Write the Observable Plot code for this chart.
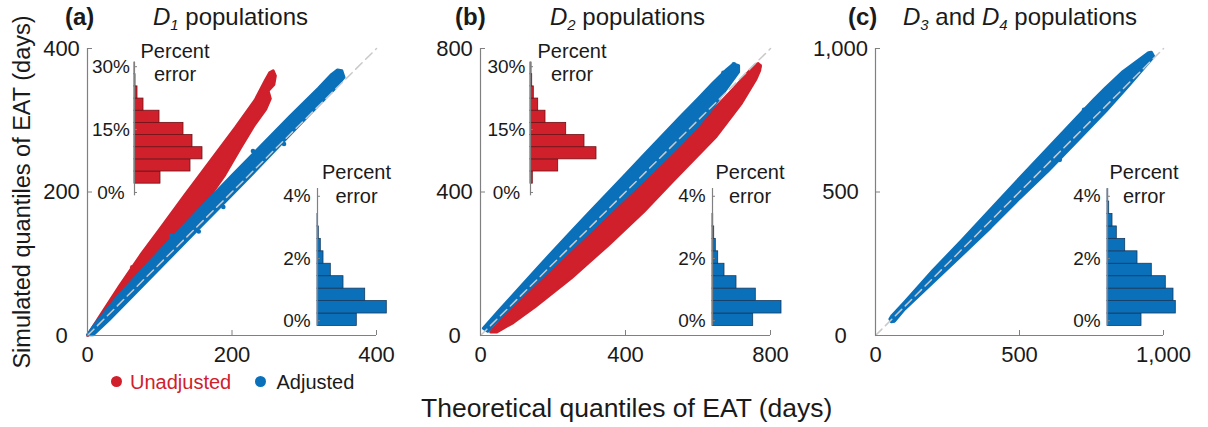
<!DOCTYPE html>
<html><head><meta charset="utf-8">
<script src="https://cdn.jsdelivr.net/npm/d3@7"></script>
<script src="https://cdn.jsdelivr.net/npm/@observablehq/plot@0.6"></script>
<style>
body{margin:0;background:#fff;font-family:"Liberation Sans",Arial,sans-serif;color:#1a1a1a;}
#root{position:relative;width:1208px;height:427px;overflow:hidden;background:#fff;}
.abs{position:absolute;white-space:nowrap;}
.title{font-size:24px;line-height:28px;top:3px;}
.pe{font-size:20px;line-height:23.3px;text-align:center;transform:translateX(-50%);}
sub{font-size:62%;vertical-align:-0.35em;line-height:0;}
</style></head><body><div id="root"></div>
<script>
// ---------------- data ----------------
const RED = "#d0202c", BLUE = "#0a70ba";
const RED_EDGE = "#6e1217", BLUE_EDGE = "#173a5e";

// panel (a): D1
const d1Ticks = [0, 200, 400];
const d1Diag = [0, 400];
const d1UnadjBand = [[0,0],[18,28],[45,70],[75,114],[100,148],[135,196],[170,243],[205,290],[232,328],[246,355],[252,366],[257,369],
  [260,362],[258,350],[250,341],[253,330],[247,316],[230,292],[212,262],[190,224],[165,188],[135,150],[105,113],[72,76],[40,41],[15,14],[3,2]];
const d1AdjBand = [[0,1],[10,15],[40,52],[80,96],[120,139],[160,181],[200,223],[240,264],[280,305],[320,345],[338,364],[346,370],[352,369],
  [355,360],[342,344],[305,306],[265,264],[225,222],[185,181],[145,140],[105,99],[65,58],[30,22],[8,1]];
const d1UnadjDots = [[250,356],[62,95]];
const d1AdjDots = [[116,139],[154,145],[229,257],[272,267],[188,179]];

// panel (b): D2
const d2Ticks = [0, 400, 800];
const d2Diag = [0, 800];
const d2UnadjBand = [[28,10],[100,92],[200,186],[300,283],[400,381],[500,481],[600,583],[700,690],[742,737],[758,754],[766,758],[772,750],
  [770,738],[760,715],[720,648],[650,555],[530,430],[450,345],[350,250],[250,160],[150,80],[90,36],[45,10]];
const d2AdjBand = [[8,20],[50,68],[100,124],[150,180],[200,235],[250,289],[300,343],[350,396],[400,449],[450,502],[500,555],[550,608],[600,660],[640,702],[680,742],[698,757],
  [712,752],[712,735],[680,690],[640,635],[600,585],[550,532],[500,482],[450,433],[400,385],[350,336],[300,288],[250,240],[200,192],[150,144],[100,95],[50,46],[20,12]];
const d2UnadjDots = [[770,752],[754,722]];
const d2AdjDots = [[699,756],[670,732]];

// panel (c): D3 and D4
const d3Ticks = [0, 500, 1000];
const d3Diag = [0, 1000];
const d3AdjBand = [[50,57],[58,70],[100,115],[200,227],[300,332],[400,440],[500,548],[600,654],[700,760],[760,824],[800,864],[860,920],[920,964],[948,985],[958,987],
  [966,972],[930,930],[880,872],[800,782],[700,678],[600,574],[500,478],[400,377],[300,281],[200,186],[100,91],[66,50],[55,48]];
const d3AdjDots = [[950,978],[924,936],[898,926],[852,892],[780,830],[724,786],[640,612]];

// percent-error histograms (bin edges in %, bar lengths = relative counts)
const unadjPctTicks = [0, 15, 30];
const adjPctTicks = [0, 2, 4];
const unadjBinEdges = [2.1, 5.0, 7.9, 10.8, 13.7, 16.6, 19.5, 22.4, 25.3, 28.2, 31.0];
const adjBinEdges = [-0.17, 0.23, 0.63, 1.03, 1.43, 1.83, 2.23, 2.63, 3.03, 3.43, 3.83, 4.23];
const d1ErrUnadj = [26, 56, 68, 58, 49, 25, 9, 3, 1, 0.4];
const d2ErrUnadj = [2.3, 27.7, 66, 54, 35.7, 15, 7.7, 3.3, 1.7, 1];
const d1ErrAdj = [39.3, 69.3, 47.7, 26, 13.3, 6, 3.3, 1.3, 0.3];
const d2ErrAdj = [40.7, 69, 43.3, 24, 12, 5.7, 3.3, 1.7, 0.7];
const d3ErrAdj = [34, 68.3, 66, 58.3, 44.3, 30, 17.7, 9.3, 5, 1.7, 0.7];

// ---------------- drawing ----------------
const root = document.getElementById("root");
const AX = "#808080", TXT = "#1a1a1a";
const FONT = "'Liberation Sans', Arial, sans-serif";

function place(node, left, top) {
  node.style.position = "absolute";
  node.style.left = left + "px";
  node.style.top = top + "px";
  root.appendChild(node);
}

function mainPanel({left, ml, mr, w, dom, ticks, diag, bands, yLabelPad}) {
  const mt = 48, h = 287, mb = 40;
  const marks = [];
  for (const b of bands) {
    marks.push(Plot.line(b.pts, {x: d => d[0], y: d => d[1], curve: "linear-closed",
      fill: b.color, stroke: b.color, strokeWidth: 3, strokeLinejoin: "round"}));
    marks.push(Plot.dot(b.dots, {x: d => d[0], y: d => d[1], r: 2.3, fill: b.color, stroke: "none"}));
  }
  marks.push(
    Plot.line(diag, {x: d => d, y: d => d, stroke: "#c9c9c9", strokeWidth: 1.5, strokeDasharray: "9,5"}),
    Plot.ruleX([0], {stroke: AX, strokeWidth: 1.2}),
    Plot.ruleY([0], {stroke: AX, strokeWidth: 1.2}),
    Plot.axisX(ticks, {tickSize: -5, fill: "none", stroke: AX, label: null}),
    Plot.axisY(ticks, {tickSize: -5, fill: "none", stroke: AX, label: null}),
    Plot.axisX(ticks, {tickSize: 0, tickPadding: 11, fontSize: 22, fill: TXT, label: null}),
    Plot.axisY(ticks, {tickSize: 0, tickPadding: yLabelPad, textAnchor: "middle", fontSize: 22, fill: TXT, label: null})
  );
  const svg = Plot.plot({
    width: ml + w + mr, height: mt + h + mb,
    marginLeft: ml, marginRight: mr, marginTop: mt, marginBottom: mb,
    x: {domain: [0, dom]}, y: {domain: [0, dom]},
    style: {background: "transparent", overflow: "visible", fontFamily: FONT},
    marks
  });
  place(svg, left - ml, 0);
}

function inset({axisPx, y0, k, lo, hi, edges, values, fill, stroke, ticks, labelPad}) {
  const mt = 4, mb = 4, ml = 50, w = 80;
  const data = values.map((v, i) => ({v, a: edges[i], b: edges[i + 1]}));
  const svg = Plot.plot({
    width: ml + w, height: (hi - lo) * k + mt + mb,
    marginLeft: ml, marginRight: 0, marginTop: mt, marginBottom: mb,
    x: {domain: [0, w], axis: null},
    y: {domain: [lo, hi]},
    style: {background: "transparent", overflow: "visible", fontFamily: FONT},
    marks: [
      Plot.rectX(data, {x1: 0, x2: "v", y1: "a", y2: "b", fill, stroke, strokeWidth: 0.8}),
      Plot.ruleX([0], {y1: lo, y2: hi, stroke: AX, strokeWidth: 1.2}),
      Plot.axisY(ticks, {tickSize: -3, fill: "none", stroke: AX, label: null}),
      Plot.axisY(ticks, {tickSize: 0, tickPadding: labelPad, textAnchor: "middle", tickFormat: d => d + "%", fontSize: 19, fill: TXT, label: null})
    ]
  });
  place(svg, axisPx - ml, y0 - hi * k - mt);
}

function html(cls, left, top, inner, extra = "") {
  const d = document.createElement("div");
  d.className = "abs " + cls;
  d.style.cssText += `left:${left}px;top:${top}px;${extra}`;
  d.innerHTML = inner;
  root.appendChild(d);
  return d;
}

// main panels
mainPanel({left: 87, ml: 87, mr: 30, w: 289, dom: 400, ticks: d1Ticks, diag: d1Diag, yLabelPad: 26,
  bands: [{pts: d1UnadjBand, dots: d1UnadjDots, color: RED}, {pts: d1AdjBand, dots: d1AdjDots, color: BLUE}]});
mainPanel({left: 480, ml: 60, mr: 30, w: 290, dom: 800, ticks: d2Ticks, diag: d2Diag, yLabelPad: 26,
  bands: [{pts: d2UnadjBand, dots: d2UnadjDots, color: RED}, {pts: d2AdjBand, dots: d2AdjDots, color: BLUE}]});
mainPanel({left: 875, ml: 70, mr: 40, w: 288, dom: 1000, ticks: d3Ticks, diag: d3Diag, yLabelPad: 35,
  bands: [{pts: d3AdjBand, dots: d3AdjDots, color: BLUE}]});

// insets
const redY = {y0: 191.5, k: 4.193, lo: -0.8, hi: 31.0};
const blueY = {y0: 320.5, k: 31.1, lo: -0.17, hi: 4.25};
inset({axisPx: 134.3, ...redY, edges: unadjBinEdges, values: d1ErrUnadj, fill: RED, stroke: RED_EDGE, ticks: unadjPctTicks, labelPad: 23.5});
inset({axisPx: 530, ...redY, edges: unadjBinEdges, values: d2ErrUnadj, fill: RED, stroke: RED_EDGE, ticks: unadjPctTicks, labelPad: 24});
inset({axisPx: 317.3, ...blueY, edges: adjBinEdges, values: d1ErrAdj, fill: BLUE, stroke: BLUE_EDGE, ticks: adjPctTicks, labelPad: 20.5});
inset({axisPx: 711.7, ...blueY, edges: adjBinEdges, values: d2ErrAdj, fill: BLUE, stroke: BLUE_EDGE, ticks: adjPctTicks, labelPad: 20.5});
inset({axisPx: 1106.7, ...blueY, edges: adjBinEdges, values: d3ErrAdj, fill: BLUE, stroke: BLUE_EDGE, ticks: adjPctTicks, labelPad: 20.5});

// "Percent error" labels
for (const [cx, cy] of [[175, 51.7], [572, 51.7], [356.5, 173], [750, 173], [1144, 173]]) {
  html("pe", cx, cy - 11.65, "Percent<br>error");
}

// titles
html("title", 65, 3, "<b>(a)</b>");
html("title", 153, 3, "<i>D<sub>1</sub></i> populations");
html("title", 455, 3, "<b>(b)</b>");
html("title", 550, 3, "<i>D<sub>2</sub></i> populations");
html("title", 848, 3, "<b>(c)</b>");
html("title", 903, 3, "<i>D<sub>3</sub></i> and <i>D<sub>4</sub></i> populations");

// axis titles
html("", 626.7, 392.5, "Theoretical quantiles of EAT (days)", "font-size:26.5px;line-height:30px;transform:translateX(-50%);");
html("", 21.7 - 200, 191.5 - 14, "Simulated quantiles of EAT (days)",
  "width:400px;text-align:center;font-size:23.5px;line-height:28px;transform:rotate(-90deg);transform-origin:50% 50%;");

// legend
html("", 111.2, 376.2, "", `width:11px;height:11px;border-radius:50%;background:${RED};`);
html("", 130, 370, "Unadjusted", `font-size:20px;line-height:24px;color:${RED};`);
html("", 254.5, 376.2, "", `width:11px;height:11px;border-radius:50%;background:${BLUE};`);
html("", 276.5, 370, "Adjusted", "font-size:20px;line-height:24px;");
</script></body></html>
